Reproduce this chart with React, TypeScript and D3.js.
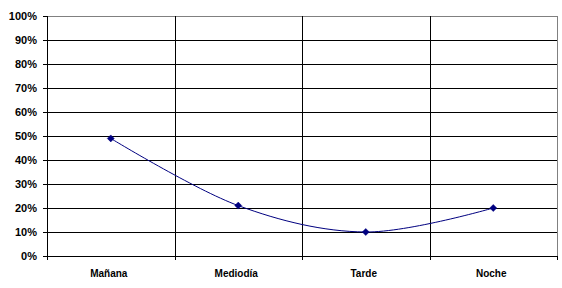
import React from "react";
import * as d3 from "d3";

const categories = ["Mañana", "Mediodía", "Tarde", "Noche"];
const values = [0.49, 0.21, 0.10, 0.20];
const yTicks = [0, 0.1, 0.2, 0.3, 0.4, 0.5, 0.6, 0.7, 0.8, 0.9, 1.0];

const W = 562;
const H = 288;
const left = 47;
const right = 557;
const top = 16;
const bottom = 256;

export default function App() {
  const x = d3.scaleBand<string>().domain(categories).range([left, right]).paddingInner(0).paddingOuter(0);
  const y = d3.scaleLinear().domain([0, 1]).range([bottom, top]);
  const fmt = d3.format(".0%");
  const pts: [number, number][] = categories.map((c, i) => [x(c)! + x.bandwidth() / 2, y(values[i])]);
  const line = d3.line().curve(d3.curveCardinal.tension(0))(pts) || "";
  const boundaries = categories.map((c) => x(c)!).slice(1);
  const font = "'Liberation Sans', Arial, sans-serif";
  return (
    <div style={{ position: "fixed", left: 0, top: 0 }}>
      <svg width={W} height={H} style={{ display: "block", background: "#fff" }}>
        <rect x={0} y={0} width={W} height={H} fill="#fff" />
        {/* horizontal gridlines */}
        {yTicks.map((t) => (
          <line key={"g" + t} x1={left} x2={right} y1={Math.round(y(t)) + 0.5} y2={Math.round(y(t)) + 0.5}
            stroke={t === 1 ? "#808080" : "#000"} strokeWidth={1} shapeRendering="crispEdges" />
        ))}
        {/* vertical gridlines */}
        {boundaries.map((b, i) => (
          <line key={"v" + i} x1={Math.round(b) + 0.5} x2={Math.round(b) + 0.5} y1={top} y2={bottom + 4}
            stroke="#000" strokeWidth={1} shapeRendering="crispEdges" />
        ))}
        {/* right border */}
        <line x1={right + 0.5} x2={right + 0.5} y1={top} y2={bottom} stroke="#808080" shapeRendering="crispEdges" />
        {/* left axis */}
        <line x1={left + 0.5} x2={left + 0.5} y1={top} y2={bottom + 1} stroke="#000" shapeRendering="crispEdges" />
        {yTicks.map((t) => (
          <line key={"t" + t} x1={left - 4} x2={left} y1={Math.round(y(t)) + 0.5} y2={Math.round(y(t)) + 0.5}
            stroke="#000" shapeRendering="crispEdges" />
        ))}
        {[left, right].map((b, i) => (
          <line key={"xt" + i} x1={Math.round(b) + 0.5} x2={Math.round(b) + 0.5} y1={bottom} y2={bottom + 4}
            stroke="#000" shapeRendering="crispEdges" />
        ))}
        {/* y labels */}
        {yTicks.map((t) => (
          <text key={"l" + t} x={37} y={y(t)} dy="0.36em" textAnchor="end" fontFamily={font} fontWeight="bold" fontSize={11} fill="#000">
            {fmt(t)}
          </text>
        ))}
        {/* x labels */}
        {categories.map((c) => (
          <text key={c} x={x(c)! + x.bandwidth() / 2 - 2} y={277} textAnchor="middle" fontFamily={font} fontWeight="bold" fontSize={10} fill="#000">
            {c}
          </text>
        ))}
        {/* series */}
        <path d={line} fill="none" stroke="#000080" strokeWidth={1} />
        {pts.map(([px, py], i) => (
          <path key={"m" + i} d={`M${px},${py - 3.5}L${px + 3.5},${py}L${px},${py + 3.5}L${px - 3.5},${py}Z`} fill="#000080" stroke="#000080" strokeWidth={0.5} />
        ))}
      </svg>
    </div>
  );
}
